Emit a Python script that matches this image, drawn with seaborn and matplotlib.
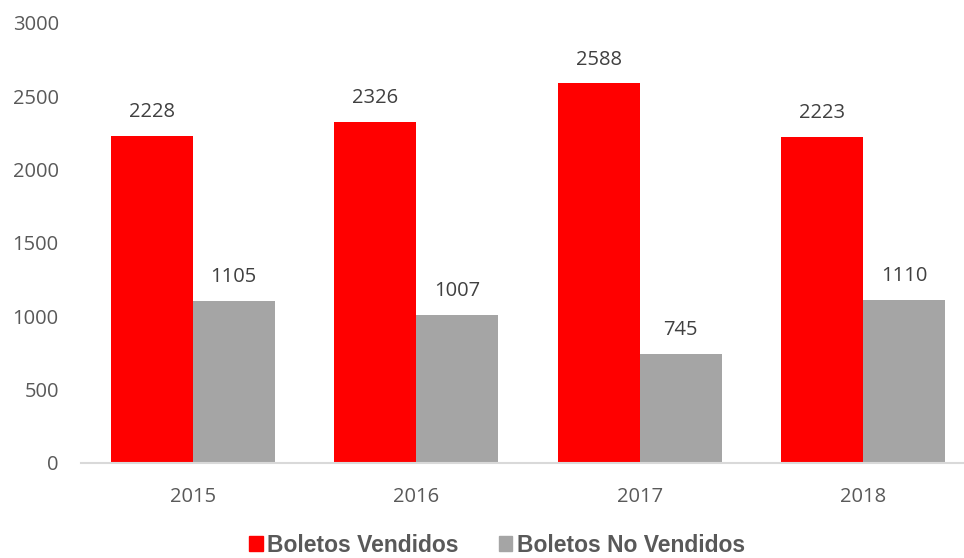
import pandas as pd
import matplotlib.pyplot as plt
import seaborn as sns

years = ["2015", "2016", "2017", "2018"]
vendidos = [2228, 2326, 2588, 2223]
no_vendidos = [1105, 1007, 745, 1110]
series_names = ["Boletos Vendidos", "Boletos No Vendidos"]
colors = ["#ff0000", "#a5a5a5"]

df = pd.DataFrame({
    "year": years * 2,
    "value": vendidos + no_vendidos,
    "serie": [series_names[0]] * 4 + [series_names[1]] * 4,
})

sns.set_theme(style="white")
plt.rcParams["font.family"] = ["Open Sans", "DejaVu Sans"]

fig = plt.figure(figsize=(9.64, 5.58), dpi=100)
ax = fig.add_axes([81 / 964, 95 / 558, 894 / 964, 440 / 558])

sns.barplot(data=df, x="year", y="value", hue="serie", palette=colors,
            width=0.734, linewidth=0, saturation=1, ax=ax, legend=False)

ax.set_ylim(0, 3000)
ax.set_yticks(range(0, 3001, 500))
ax.set_xlim(-0.5, 3.5)
ax.set_xlabel("")
ax.set_ylabel("")
ax.tick_params(axis="both", length=0, labelsize=14.5, labelcolor="#595959")
ax.tick_params(axis="y", pad=16)
ax.tick_params(axis="x", pad=17)
for s in ["left", "right", "top"]:
    ax.spines[s].set_visible(False)
ax.spines["bottom"].set_color("#d9d9d9")
ax.spines["bottom"].set_linewidth(1.5)

for cont in ax.containers:
    ax.bar_label(cont, fmt="%d", padding=10, fontsize=14.5, color="#404040")

handles = [plt.Rectangle((0, 0), 1, 1, color=c) for c in colors]
fig.legend(handles, series_names, loc="center", bbox_to_anchor=(497 / 964, 13 / 558),
           ncol=2, frameon=False, handlelength=0.58, handleheight=0.58,
           handletextpad=0.2, columnspacing=1.75, borderpad=0,
           prop={"family": "Liberation Sans", "weight": "bold", "size": 16.5},
           labelcolor="#595959")

fig.savefig("out.png", dpi=100)
